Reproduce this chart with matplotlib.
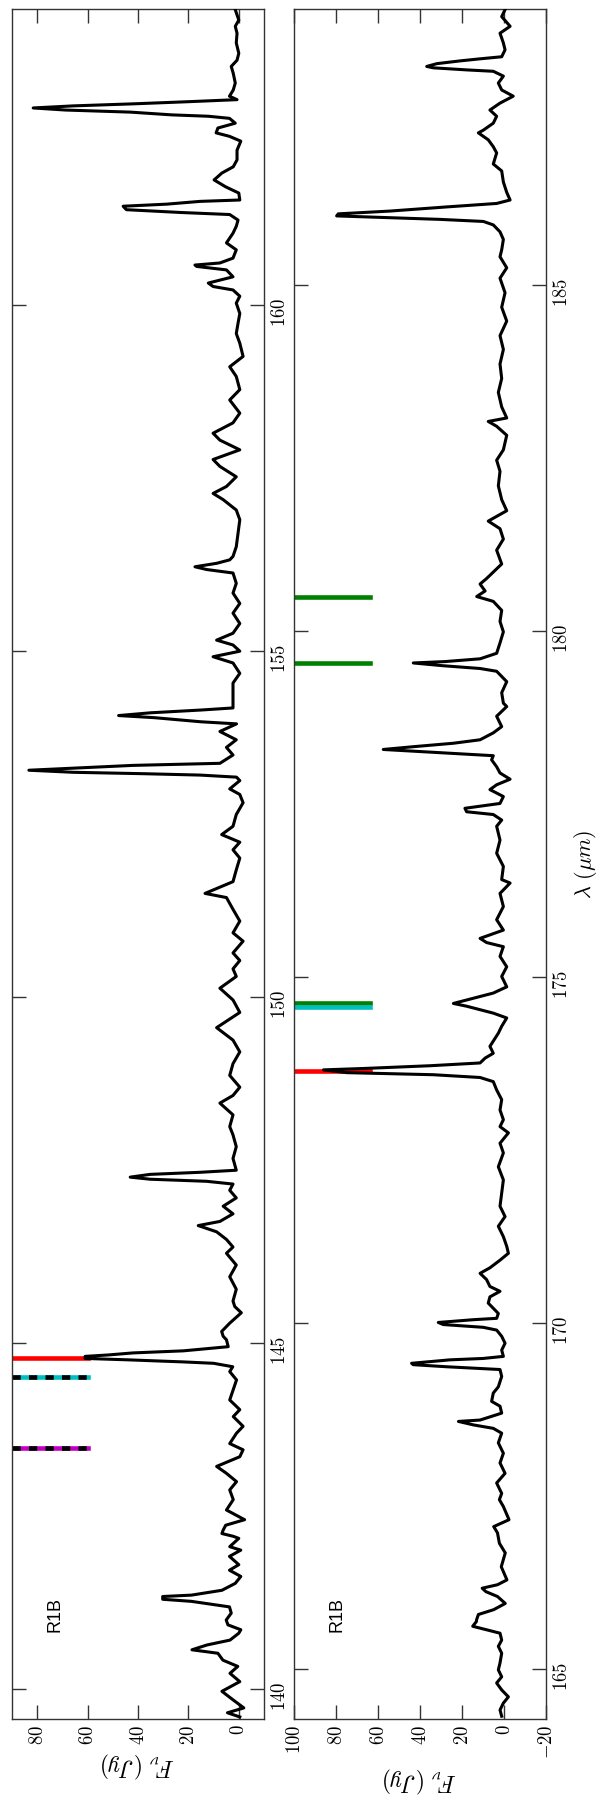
import matplotlib
matplotlib.use('Agg')
import matplotlib.pyplot as plt
from matplotlib.ticker import FuncFormatter

plt.rcParams['mathtext.fontset'] = 'cm'
plt.rcParams['font.family'] = ['DejaVu Sans']

# first half of the R1B band
wave_a = [139.60, 139.66, 139.73, 139.85, 139.97, 140.11, 140.23, 140.33, 140.42, 140.52,
          140.57, 140.64, 140.71, 140.81, 140.86, 140.93, 141.00, 141.10, 141.19, 141.27,
          141.30, 141.34, 141.36, 141.43, 141.53, 141.63, 141.72, 141.80, 141.92, 142.01,
          142.06, 142.18, 142.21, 142.25, 142.30, 142.37, 142.45, 142.59, 142.74, 142.88,
          143.00, 143.12, 143.22, 143.36, 143.46, 143.55, 143.70, 143.80, 143.94, 144.04,
          144.18, 144.33, 144.47, 144.59, 144.66, 144.71, 144.73, 144.76, 144.78, 144.81,
          144.83, 144.86, 144.89, 144.95, 145.05, 145.10, 145.17, 145.29, 145.44, 145.53,
          145.61, 145.78, 145.96, 146.13, 146.30, 146.39, 146.50, 146.61, 146.70, 146.76,
          146.87, 146.98, 147.10, 147.21, 147.30, 147.34, 147.37, 147.40, 147.44, 147.47,
          147.50, 147.67, 147.84, 148.01, 148.13, 148.30, 148.47, 148.58, 148.70, 148.87,
          149.04, 149.21, 149.38, 149.56, 149.78, 149.96, 150.13, 150.30, 150.41, 150.53,
          150.64, 150.81, 150.93, 151.10, 151.27, 151.44, 151.50, 151.67, 151.84, 152.01,
          152.13, 152.24, 152.35, 152.47, 152.64, 152.81, 152.93, 153.01, 153.13, 153.18,
          153.21, 153.23, 153.25, 153.28, 153.31, 153.35, 153.38, 153.44, 153.50, 153.61,
          153.72, 153.84, 153.95, 153.98, 154.04, 154.07, 154.11, 154.15, 154.18, 154.30,
          154.35, 154.54, 154.68, 154.83, 154.92, 155.00, 155.09, 155.16, 155.26, 155.40,
          155.55, 155.69, 155.84, 155.98, 156.13, 156.18, 156.22, 156.27, 156.32, 156.37,
          156.51, 156.71, 156.90, 157.04, 157.19, 157.28, 157.38, 157.52, 157.67, 157.77,
          157.91, 158.05, 158.15, 158.30, 158.44, 158.63, 158.78, 158.97, 159.11, 159.26,
          159.45, 159.59, 159.74, 159.88, 160.03, 160.13, 160.22, 160.27, 160.32, 160.41,
          160.51, 160.56, 160.58, 160.61, 160.68, 160.80, 160.90, 161.04, 161.14, 161.23,
          161.31, 161.34, 161.38, 161.43, 161.46, 161.50, 161.52, 161.62, 161.71, 161.81,
          161.91, 162.00, 162.10, 162.24, 162.37, 162.44, 162.49, 162.56, 162.63, 162.70,
          162.73, 162.75, 162.79, 162.82, 162.85, 162.88, 162.91, 162.94, 162.97, 163.02,
          163.11, 163.21, 163.35, 163.45, 163.54, 163.64, 163.79, 163.93, 164.03, 164.12,
          164.27]
flux_a = [-0.4, 4.5, -2.0, 2.4, 6.7, -0.4, 3.5, 0.4, 6.3, 8.3,
          18.6, 12.6, 3.5, 0.0, -0.8, 4.3, 5.0, 3.0, 3.7, 18.8,
          30.2, 30.2, 18.8, 6.7, 1.4, -0.8, 3.7, 0.0, 3.7, -0.8,
          3.6, 0.0, 2.2, 6.7, 6.2, 5.2, -2.3, 4.9, 2.2, 3.6,
          0.9, 4.9, 8.8, -0.4, -1.7, 3.6, 0.9, -1.7, 2.2, -0.4,
          3.6, 2.2, 0.9, 3.6, 2.4, 10.0, 22.0, 44.0, 61.0, 61.0,
          52.0, 42.0, 22.0, 4.2, 4.9, 6.2, 6.8, 3.6, -1.0, 1.6,
          2.3, 1.0, 3.6, 1.0, 4.9, 2.3, 4.9, 8.8, 16.1, 7.5,
          2.3, 6.2, 1.0, 3.6, 2.3, 12.8, 35.2, 43.1, 35.2, 15.4,
          1.0, 2.3, 1.0, 2.3, 3.6, 2.3, 7.5, 2.3, -0.4, 3.6,
          2.3, -0.4, 2.3, 8.8, -0.4, 2.3, 7.5, 1.0, 2.3, -0.4,
          2.3, -1.7, 2.3, -0.4, 2.3, 4.9, 13.4, 2.3, 1.0, -0.4,
          2.3, -0.4, 6.8, 2.3, 1.0, -1.7, -0.4, 3.6, -0.4, 0.9,
          15.4, 38.0, 65.6, 83.3, 65.6, 42.0, 7.5, 4.9, 2.3, 4.9,
          1.0, 7.5, 0.9, 15.0, 33.7, 47.7, 35.0, 15.0, 2.3, 2.3,
          2.3, 2.3, -0.4, 2.3, 10.2, -0.4, 2.3, 8.8, 2.3, -0.4,
          2.3, -0.4, 2.3, 1.0, 2.3, 12.7, 17.4, 8.8, 3.6, 2.3,
          1.0, 0.3, -0.4, 1.0, 6.2, 10.2, 4.9, 1.0, 7.5, 10.2,
          -0.4, 7.5, 10.2, 2.3, -0.4, 3.6, -0.4, 1.0, 3.6, -1.7,
          -0.4, 1.0, 0.3, -0.4, 1.0, -0.4, 2.3, 10.2, 12.1, 2.3,
          4.9, 16.7, 17.4, 7.5, 2.3, 1.0, 4.9, 2.3, 1.0, 0.3,
          3.6, 23.3, 44.6, 45.9, 28.6, 15.4, -0.4, 0.0, 5.2, 9.8,
          6.7, 2.2, 0.7, 0.7, -0.8, 3.7, 9.0, 8.3, 1.4, 3.7,
          12.0, 26.5, 43.1, 68.8, 81.6, 65.7, 41.5, 20.4, 0.7, 3.7,
          2.2, 1.4, 2.2, 3.0, 0.7, 0.0, 1.0, 0.7, 1.4, 0.0,
          1.4]

# second half of the R1B band
wave_b = [164.32, 164.41, 164.51, 164.60, 164.70, 164.80, 164.89, 164.99, 165.09, 165.23,
          165.33, 165.42, 165.52, 165.57, 165.62, 165.69, 165.71, 165.79, 165.86, 165.95,
          166.05, 166.12, 166.17, 166.22, 166.29, 166.48, 166.68, 166.82, 166.97, 167.06,
          167.16, 167.35, 167.45, 167.54, 167.69, 167.83, 167.98, 168.12, 168.27, 168.41,
          168.48, 168.53, 168.58, 168.60, 168.70, 168.80, 168.87, 168.99, 169.08, 169.23,
          169.33, 169.37, 169.40, 169.42, 169.47, 169.49, 169.52, 169.61, 169.71, 169.81,
          169.90, 169.94, 169.98, 170.01, 170.05, 170.07, 170.14, 170.29, 170.38, 170.46,
          170.53, 170.63, 170.72, 170.80, 170.91, 171.01, 171.11, 171.25, 171.40, 171.54,
          171.69, 171.88, 172.07, 172.26, 172.46, 172.60, 172.75, 172.84, 172.94, 173.08,
          173.23, 173.37, 173.49, 173.55, 173.59, 173.62, 173.66, 173.68, 173.72, 173.76,
          173.83, 173.90, 174.00, 174.19, 174.29, 174.41, 174.48, 174.58, 174.62, 174.67,
          174.77, 174.86, 175.01, 175.15, 175.30, 175.44, 175.50, 175.56, 175.68, 175.83,
          176.02, 176.21, 176.36, 176.41, 176.60, 176.79, 176.98, 177.18, 177.27, 177.35,
          177.39, 177.44, 177.51, 177.61, 177.71, 177.78, 177.86, 177.95, 178.04, 178.14,
          178.20, 178.23, 178.26, 178.29, 178.33, 178.38, 178.43, 178.53, 178.62, 178.77,
          178.91, 178.96, 179.11, 179.27, 179.42, 179.46, 179.50, 179.54, 179.56, 179.60,
          179.68, 179.83, 179.99, 180.14, 180.30, 180.43, 180.50, 180.58, 180.68, 180.76,
          180.97, 181.17, 181.33, 181.48, 181.59, 181.74, 181.90, 182.10, 182.31, 182.47,
          182.62, 182.83, 182.96, 183.03, 183.08, 183.24, 183.45, 183.65, 183.86, 184.07,
          184.27, 184.48, 184.68, 184.89, 185.10, 185.25, 185.41, 185.51, 185.66, 185.77,
          185.87, 185.92, 185.95, 185.98, 186.00, 186.03, 186.07, 186.13, 186.18, 186.23,
          186.34, 186.49, 186.65, 186.75, 186.91, 187.00, 187.10, 187.20, 187.24, 187.34,
          187.44, 187.53, 187.63, 187.73, 187.82, 187.92, 188.02, 188.09, 188.11, 188.14,
          188.16, 188.20, 188.24, 188.27, 188.30, 188.40, 188.50, 188.64, 188.74, 188.88,
          188.98]
flux_b = [1.1, 1.9, 0.3, -2.1, 1.1, 3.5, 1.1, 2.7, 1.9, 1.1,
          2.7, 1.1, 1.9, 8.3, 14.9, 13.1, 13.1, 12.2, 4.9, -0.6,
          3.1, 8.6, 10.4, 3.1, -1.4, 1.3, -0.6, 2.2, 3.1, 4.9,
          -2.4, 0.3, 2.2, 1.1, 3.5, -0.5, 1.9, 0.3, 2.7, 1.1,
          5.1, 14.6, 21.7, 11.4, 1.1, 1.9, 5.9, 5.1, 2.7, 1.1,
          1.9, 27.3, 43.2, 44.0, 25.7, 9.9, 0.3, 1.1, -0.5, 1.1,
          3.5, 9.9, 28.9, 31.3, 14.6, 3.5, 2.7, 7.5, 6.7, 1.9,
          6.7, 8.3, 11.4, 6.7, 1.9, -2.1, -1.3, 0.3, 2.7, -0.5,
          1.9, 1.1, 0.3, 2.7, 0.3, 1.9, -2.1, 1.9, 0.3, 1.9,
          1.1, 3.5, 5.1, 11.4, 33.7, 74.9, 86.0, 67.0, 35.2, 11.4,
          9.0, 5.1, 6.7, 2.7, 1.1, -1.3, 5.1, 17.8, 24.1, 17.8,
          5.1, -1.3, 1.1, -1.3, 1.9, 0.3, 8.3, 11.4, 0.3, 3.5,
          0.3, 1.9, -2.9, 1.1, 0.3, 3.5, 1.9, 3.5, 1.1, 5.1,
          17.8, 18.6, 1.9, 0.3, 6.7, 3.5, -2.9, 1.9, 3.5, 5.9,
          5.1, 22.5, 40.0, 57.5, 43.2, 24.1, 11.4, 5.1, 1.1, 3.5,
          -1.3, 0.3, 1.1, -1.3, 3.5, 11.4, 29.0, 43.2, 28.1, 11.4,
          3.5, 1.9, 0.3, 1.9, 1.1, 5.1, 13.0, 9.0, 11.4, 8.3,
          1.1, 3.5, 0.3, 1.9, 7.5, -1.3, 1.1, 2.7, 1.9, 3.5,
          0.3, -1.3, 3.5, 7.5, -1.3, 1.1, 2.7, 1.1, 1.9, 0.3,
          1.9, -1.3, 1.1, -0.5, 1.9, -1.3, 1.9, 1.1, 0.3, 1.9,
          5.1, 9.8, 30.5, 60.6, 79.7, 78.9, 54.3, 27.3, 3.5, -2.9,
          -1.3, 0.3, 1.1, 5.1, 3.5, 5.1, 7.5, 12.2, 9.8, 5.1,
          3.5, 6.7, 1.9, -4.4, 1.1, 2.7, 0.3, 5.1, 17.8, 33.7,
          36.8, 32.0, 21.0, 11.4, 1.1, -0.5, 0.3, 1.9, -2.9, 1.1,
          -0.5]

# line markers: wavelength, colour, black dashes on top
mark_a_wave = [144.78, 144.51, 143.49]
mark_a_color = ['r', 'c', 'm']
mark_a_dash = [False, True, True]
mark_b_wave = [173.64, 174.63, 174.565, 180.50, 179.54]
mark_b_color = ['r', 'g', 'c', 'g', 'g']
mark_b_dash = [False, False, False, False, False]

flux_ticks_a = [0, 20, 40, 60, 80]
flux_ticks_b = [-20, 0, 20, 40, 60, 80, 100]
wave_ticks_a = [140, 145, 150, 155, 160]
wave_ticks_b = [165, 170, 175, 180, 185]

fig = plt.figure(figsize=(6, 18), dpi=100)
ax1 = fig.add_axes([0.02, 0.045, 0.42, 0.95])
ax2 = fig.add_axes([0.49, 0.045, 0.42, 0.95])

panels = [(ax1, wave_a, flux_a, mark_a_wave, mark_a_color, mark_a_dash,
           (90, -10), (139.57, 164.28), flux_ticks_a, wave_ticks_a),
          (ax2, wave_b, flux_b, mark_b_wave, mark_b_color, mark_b_dash,
           (100, -20), (164.28, 188.99), flux_ticks_b, wave_ticks_b)]

fmt = FuncFormatter(lambda v, p: r'$%d$' % v)

for ax, wv, fl, mw, mc, md, xl, yl, xt, yt in panels:
    for w, c, d in zip(mw, mc, md):
        ax.axhline(w, xmin=0.0, xmax=0.3, color=c, lw=3.3, zorder=2)
        if d:
            ax.axhline(w, xmin=0.0, xmax=0.3, color='k', lw=3.3, zorder=2,
                       dashes=(1.8, 1.8), dash_capstyle='butt')
    ax.plot(fl, wv, color='k', lw=2.2, zorder=3)
    ax.set_xlim(xl)
    ax.set_ylim(yl)
    ax.set_xticks(xt)
    ax.set_yticks(yt)
    ax.xaxis.set_major_formatter(fmt)
    ax.yaxis.set_major_formatter(fmt)
    ax.tick_params(direction='in', length=10, width=1, color='#333333',
                   top=True, bottom=True, left=True, right=True,
                   labelleft=False, labelright=True, labelsize=13.5, pad=4)
    ax.tick_params(axis='x', labelrotation=90)
    ax.tick_params(axis='y', labelrotation=90)
    for s in ax.spines.values():
        s.set_color('#333333')
        s.set_linewidth(1.0)
    ax.set_xlabel(r'$F_{\nu}\ (Jy)$', fontsize=17, rotation=180, labelpad=4)
    ax.text(0.17, 0.061, 'R1B', transform=ax.transAxes, rotation=90,
            ha='center', va='center', fontsize=13,
            family=['Liberation Sans', 'DejaVu Sans'])

ax2.yaxis.set_label_position('right')
ax2.set_ylabel(r'$\lambda\ (\mu m)$', fontsize=16, rotation=90, labelpad=1)

plt.savefig('out.png', dpi=100)
